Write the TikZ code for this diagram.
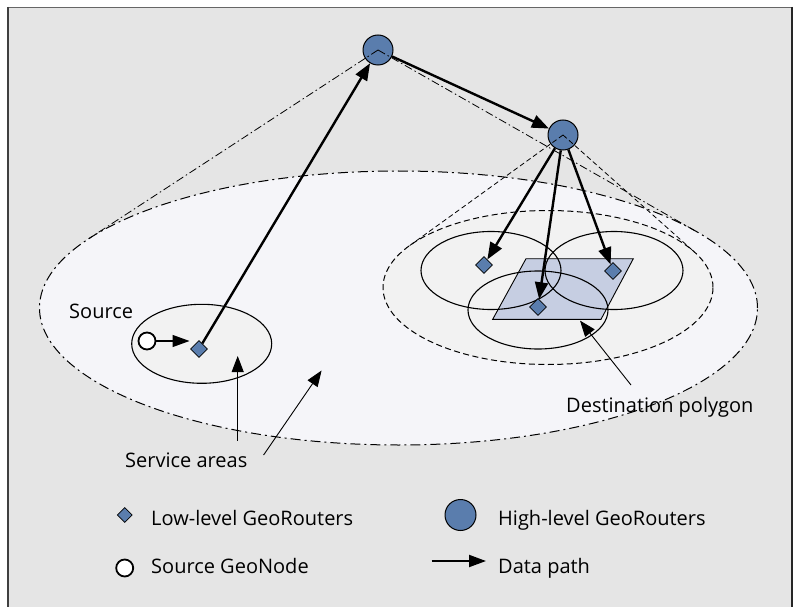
\documentclass[tikz,border=0pt]{standalone}
\usepackage{fontspec}
\setmainfont{Open Sans}
\usetikzlibrary{shapes.geometric,arrows.meta}
\definecolor{bggray}{HTML}{E5E5E5}
\definecolor{nodeblue}{HTML}{5A7DAD}
\definecolor{polyfill}{HTML}{C6CEE2}
\definecolor{bigfill}{HTML}{F5F5F9}
\definecolor{areafill}{HTML}{F2F2F2}
\tikzset{
  hnode/.style={circle,draw=black,line width=1pt,fill=nodeblue,minimum size=30pt,inner sep=0pt},
  lnode/.style={diamond,draw=black,line width=0.7pt,fill=nodeblue,minimum size=17pt,inner sep=0pt},
  snode/.style={circle,draw=black,line width=1.8pt,fill=white,minimum size=17pt,inner sep=0pt},
  thickarrow/.style={line width=2.4pt,-{Triangle[length=17pt,width=13pt]}},
  thinarrow/.style={line width=0.9pt,-{Triangle[length=16pt,width=12pt]}},
  smallarrow/.style={line width=1.2pt,-{Triangle[length=17pt,width=12pt]}},
  conedashdot/.style={line width=0.8pt,dash pattern=on 8pt off 3pt on 1.5pt off 3pt},
  bigdashdot/.style={line width=1pt,dash pattern=on 10pt off 4pt on 2pt off 4pt},
  conedash/.style={line width=0.8pt,dash pattern=on 5pt off 3pt},
  innerdash/.style={line width=1pt,dash pattern=on 6pt off 3.5pt},
  arealine/.style={line width=1.1pt},
  label/.style={anchor=base west,inner sep=0pt}
}
\begin{document}
\begin{tikzpicture}[x=1pt,y=-1pt,font=\fontsize{20}{24}\selectfont]
\useasboundingbox (0,0) rectangle (798,607);
\fill[white] (0,0) rectangle (798,607);
\fill[bggray] (8,7.5) rectangle (792,607);
\draw[line width=1.5pt,draw=black!60] (8,7.5) -- (792,7.5);
\draw[line width=2pt,draw=black!75] (8,7) -- (8,607);
\draw[line width=1.6pt,draw=black!85] (792,7) -- (792,607);

% big service area
\filldraw[fill=bigfill,draw=black,bigdashdot] (398.5,308) ellipse [x radius=359pt,y radius=137pt];
% inner dashed area
\filldraw[fill=areafill,draw=black,innerdash] (548,287.5) ellipse [x radius=165pt,y radius=77pt];
% destination polygon
\filldraw[fill=polyfill,draw=black,line width=0.9pt] (526,258.7) -- (633.3,258.7) -- (601,319.3) -- (492.7,319.3) -- cycle;
% three service areas
\draw[arealine] (491,270.5) ellipse [x radius=70pt,y radius=39pt];
\draw[arealine] (614,270.5) ellipse [x radius=69pt,y radius=39pt];
\draw[arealine] (538,310) ellipse [x radius=70pt,y radius=39pt];
% source service area
\filldraw[fill=areafill,draw=black,arealine] (201.7,343.8) ellipse [x radius=70pt,y radius=39.5pt];

% nodes
\node[hnode] (h1) at (378,50) {};
\node[hnode] (h2) at (563,135) {};
\node[lnode] (d1) at (484,265) {};
\node[lnode] (d2) at (613,271) {};
\node[lnode] (d3) at (538,307) {};
\node[lnode] (ds) at (199,349) {};
\node[snode] (sc) at (147,341) {};

% cone lines
\coordinate (t1l) at (88.6,238.8);
\coordinate (t1r) at (696.8,231.8);
\coordinate (t2l) at (409.5,245.7);
\coordinate (t2r) at (694.2,251.8);
\draw[conedashdot] (h1.center) -- (t1l);
\draw[conedashdot] (h1.center) -- (t1r);
\draw[conedash] (h2.center) -- (t2l);
\draw[conedash] (h2.center) -- (t2r);

% data path
\draw[thickarrow] (ds) -- (h1);
\draw[thickarrow] (h1) -- (h2);
\draw[thickarrow] (h2) -- (d1);
\draw[thickarrow] (h2) -- (d3);
\draw[thickarrow] (h2) -- (d2);
\coordinate (sct) at (189.5,341);
\draw[smallarrow] (sc) -- (sct);

% labels
\node[label] (tsrc) at (69,318) {Source};
\node[label] (tsvc) at (125,467) {Service areas};
\node[label] (tdst) at (566,412) {Destination polygon};
\coordinate (p1a) at (237.7,440.6);
\coordinate (p1b) at (237.7,356);
\coordinate (p2a) at (263.6,455);
\coordinate (p2b) at (321.6,370.5);
\coordinate (p3a) at (631,385);
\coordinate (p3b) at (580,320.6);
\draw[thinarrow] (p1a) -- (p1b);
\draw[thinarrow] (p2a) -- (p2b);
\draw[thinarrow] (p3a) -- (p3b);

% legend
\node[lnode,minimum size=15pt] (lg1) at (124.7,515) {};
\node[label] (lt1) at (151,525) {Low-level GeoRouters};
\node[hnode,minimum size=31pt] (lg2) at (460.5,515) {};
\node[label] (lt2) at (498,525) {High-level GeoRouters};
\node[snode] (lg3) at (124.7,568) {};
\node[label] (lt3) at (151,573) {Source GeoNode};
\coordinate (la1) at (431.6,561);
\coordinate (la2) at (486,561);
\draw[smallarrow,line width=2pt] (la1) -- (la2);
\node[label] (lt4) at (498,573) {Data path};
\end{tikzpicture}
\end{document}
